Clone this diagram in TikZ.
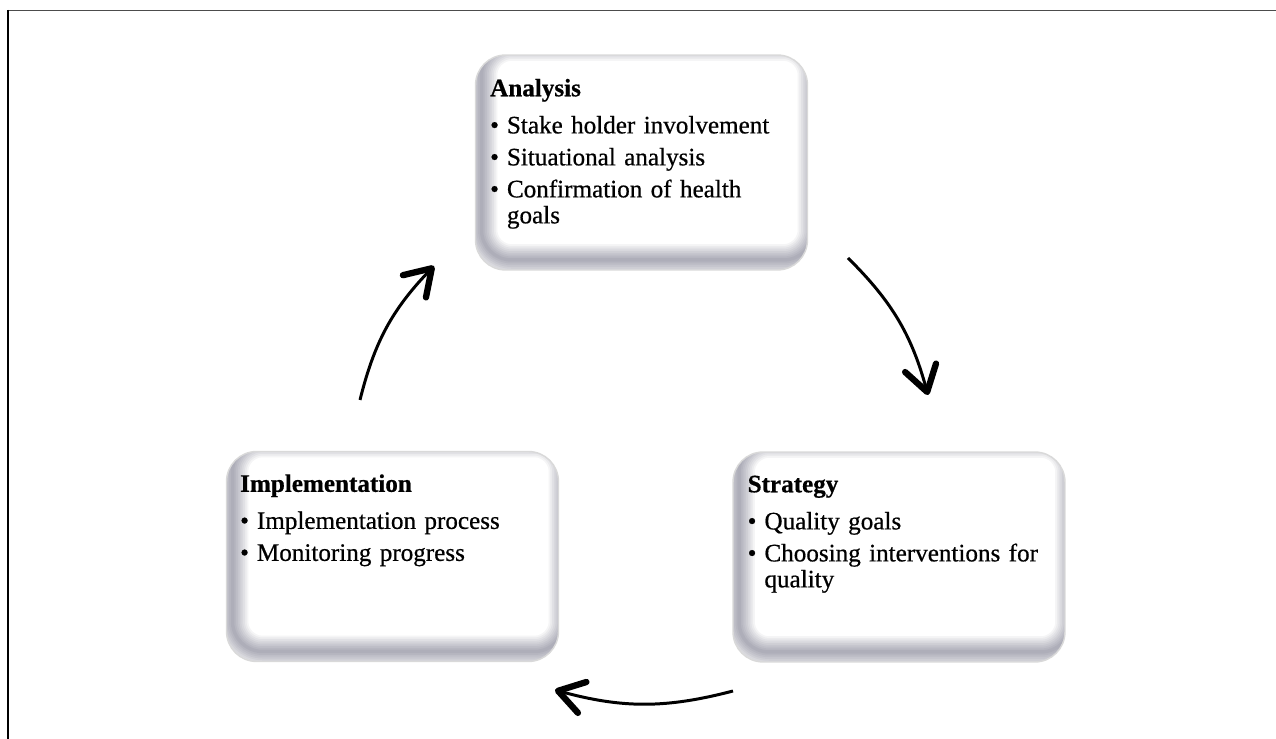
\documentclass[tikz,border=0pt]{standalone}
\usepackage{fontspec}
\setmainfont{Liberation Serif}[RawFeature={embolden=0.6}]
\usetikzlibrary{arrows.meta,positioning}

\tikzset{
  stage/.style={rounded corners=0.6cm,fill=white,draw=gray!30,line width=0.8pt,
    minimum width=6.64cm,minimum height=4.2cm,
    path picture={
      \foreach \w in {2,4,...,18}
        \draw[black!85!blue,opacity=0.04,line width=\w pt,rounded corners=0.6cm]
          ([shift={(0.12cm,0.2cm)}]path picture bounding box.south west) rectangle
          ([shift={(0.12cm,0.2cm)}]path picture bounding box.north east);
    }},
  stagetext/.style={anchor=base west,inner sep=0pt,align=left,text width=6.2cm,
    font=\fontsize{14.3}{14.8}\selectfont},
  cyclearrow/.style={line width=1.7pt,bend left=15,
    -{Straight Barb[length=5mm,width=6.4mm,line width=3.6pt,round]}}
}

\newcommand{\itm}{\textbullet\hspace{0.16cm}}
\newcommand{\cont}{\hphantom{\textbullet}\hspace{0.16cm}}

\begin{document}
\begin{tikzpicture}[x=0.02cm,y=-0.02cm]
  \useasboundingbox (0,0) rectangle (1276,739);
  % frame
  \draw[gray!60!black,line width=1.1pt] (8,10.5) -- (1276,10.5);
  \draw[black,line width=1.2pt] (8,10) -- (8,739);

  % the three stages
  \node[stage,minimum height=4.3cm] (ana) at (641.5,162.5) {};
  \node[stage] (impl) at (392.5,556.5) {};
  \node[stage] (strat) at (899,557) {};

  \node[stagetext] (anatxt) at ([shift={(0.3cm,-0.84cm)}]ana.north west)
    {\textbf{Analysis}\\[6.3pt]
     \itm Stake holder involvement\\[3.4pt]
     \itm Situational analysis\\[3.4pt]
     \itm Confirmation of health\\
     \cont goals};
  \node[stagetext] (impltxt) at ([shift={(0.28cm,-0.82cm)}]impl.north west)
    {\textbf{Implementation}\\[6.3pt]
     \itm Implementation process\\[3.4pt]
     \itm Monitoring progress};
  \node[stagetext] (strattxt) at ([shift={(0.3cm,-0.82cm)}]strat.north west)
    {\textbf{Strategy}\\[6.3pt]
     \itm Quality goals\\[3.4pt]
     \itm Choosing interventions for\\
     \cont quality};

  % cycle arrows
  \coordinate (a1s) at (360,400);
  \coordinate (a1e) at (434,266);
  \coordinate (a2s) at (848,258);
  \coordinate (a2e) at (928,395);
  \coordinate (a3s) at (733,691);
  \coordinate (a3e) at (555,690);

  \foreach \from/\to in {a1s/a1e,a2s/a2e,a3s/a3e}
    \draw[cyclearrow] (\from) to (\to);
\end{tikzpicture}
\end{document}
